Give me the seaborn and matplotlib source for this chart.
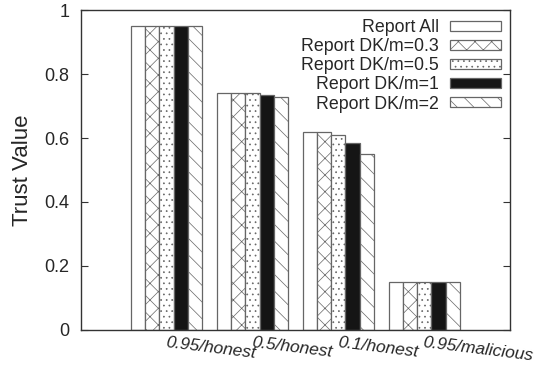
import numpy as np
import pandas as pd
import matplotlib
matplotlib.use("Agg")
import matplotlib.pyplot as plt
import seaborn as sns

sns.set_style("ticks")
plt.rcParams['font.family'] = ['Liberation Sans', 'DejaVu Sans']
plt.rcParams['hatch.linewidth'] = 0.5

# data
scenarios = ['0.95/honest', '0.5/honest', '0.1/honest', '0.95/malicious']
methods = ['Report All', 'Report DK/m=0.3', 'Report DK/m=0.5', 'Report DK/m=1', 'Report DK/m=2']
report_all = [0.95, 0.740, 0.618, 0.151]
dk_03 = [0.95, 0.741, 0.620, 0.151]
dk_05 = [0.95, 0.740, 0.610, 0.151]
dk_1 = [0.95, 0.735, 0.585, 0.151]
dk_2 = [0.95, 0.728, 0.551, 0.151]

series = [report_all, dk_03, dk_05, dk_1, dk_2]
fills = ['white', 'white', 'white', '#151515', 'white']
hatches = ['', 'xx', '...', '', '\\\\']

rows = []
for m, vals in zip(methods, series):
    for s, v in zip(scenarios, vals):
        rows.append({'Scenario': s, 'Method': m, 'Trust Value': v})
df = pd.DataFrame(rows)

fig, ax = plt.subplots(figsize=(5.42, 3.77), dpi=100)
fig.subplots_adjust(left=0.149, right=0.941, top=0.973, bottom=0.125)

sns.barplot(data=df, x='Scenario', y='Trust Value', hue='Method',
            palette=fills, width=0.83, edgecolor='#666666', linewidth=0.9,
            legend=False, ax=ax)

for cont, h in zip(ax.containers, hatches):
    for p in cont.patches:
        p.set_hatch(h)

handles = [cont.patches[0] for cont in ax.containers]
ax.legend(handles, methods, loc='upper right', markerfirst=False, frameon=False,
          fontsize=12.8, handlelength=2.9, handleheight=0.45, labelspacing=0.12,
          handletextpad=0.6, borderpad=0.3, borderaxespad=0.2,
          bbox_to_anchor=(1.0, 1.0))

ax.set_xlim(-1, 4)
ax.set_ylim(0, 1)
ax.set_yticks([0, 0.2, 0.4, 0.6, 0.8, 1])
ax.set_yticklabels(['0', '0.2', '0.4', '0.6', '0.8', '1'])
ax.tick_params(axis='y', direction='in', right=True, length=5, labelsize=13,
               color='#333333', pad=8)
ax.tick_params(axis='x', length=0, labelsize=12.5, pad=4)
for lab in ax.get_xticklabels():
    lab.set_rotation(-7)
    lab.set_ha('left')
    lab.set_va('top')
    lab.set_rotation_mode('anchor')
    lab.set_fontstyle('italic')

ax.set_xlabel('')
ax.set_ylabel('Trust Value', fontsize=16, labelpad=8)
for sp in ax.spines.values():
    sp.set_visible(True)
    sp.set_color('#333333')
    sp.set_linewidth(1)

fig.savefig('out.png', dpi=100)
